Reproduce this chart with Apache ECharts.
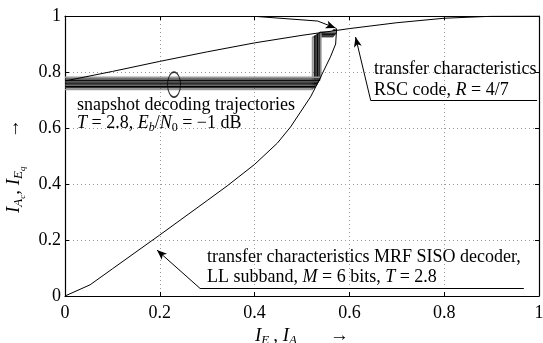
<!DOCTYPE html>
<html>
<head>
<meta charset="utf-8">
<script src="https://cdn.jsdelivr.net/npm/echarts@6/dist/echarts.min.js"></script>
<style>
  html, body { margin: 0; padding: 0; background: #fff; }
  #exitChart { width: 543px; height: 343px; }
</style>
</head>
<body>
<div id="exitChart"></div>
<script>
// axis ticks
var xTicks = [0, 0.2, 0.4, 0.6, 0.8, 1];
var yTicks = [0, 0.2, 0.4, 0.6, 0.8, 1];

// transfer characteristics RSC code, R = 4/7
var rscX = [0, 0.1, 0.2, 0.3, 0.4, 0.5, 0.6, 0.7, 0.8, 0.9, 1];
var rscY = [0.768, 0.802, 0.838, 0.872, 0.904, 0.931, 0.955, 0.976, 0.992, 0.999, 1];

// transfer characteristics MRF SISO decoder
var mrfX = [0, 0.053, 0.1, 0.2, 0.3, 0.342, 0.4, 0.448, 0.476, 0.518, 0.533, 0.56, 0.571, 0.573];
var mrfY = [0, 0.04, 0.097, 0.218, 0.341, 0.393, 0.47, 0.546, 0.604, 0.711, 0.76, 0.854, 0.9, 0.955];

// snapshot decoding trajectories (start, 1st step, 2nd step, end)
var trajY0 = [0.737, 0.744, 0.749, 0.753, 0.757, 0.761, 0.765, 0.770, 0.775, 0.781];
var trajX1 = [0.522, 0.526, 0.528, 0.530, 0.532, 0.533, 0.535, 0.537, 0.538, 0.540];
var trajY2 = [0.925, 0.928, 0.930, 0.932, 0.934, 0.936, 0.938, 0.940, 0.942, 0.944];
var trajX2 = [0.565, 0.566, 0.567, 0.568, 0.569, 0.570, 0.570, 0.571, 0.572, 0.572];
var trajY3 = [0.950, 0.951, 0.952, 0.952, 0.953, 0.953, 0.954, 0.954, 0.955, 0.955];

// ellipse marking the trajectory bundle
var ellipsePt = [0.23, 0.755];

var trajColors = ['#9a9a9a', '#333', '#000', '#666', '#222', '#000', '#555', '#111', '#444', '#9a9a9a'];

var serif = '"Liberation Serif", "DejaVu Serif", serif';

function zip(xs, ys) {
  var out = [];
  for (var i = 0; i < xs.length; i++) {
    out.push([xs[i], ys[i]]);
  }
  return out;
}

var chart = echarts.init(document.getElementById('exitChart'));

var mathRich = {
  t: { fontFamily: serif, fontSize: 18, color: '#000' },
  m: { fontFamily: serif, fontSize: 18, fontStyle: 'italic', color: '#000' },
  sb: { fontFamily: serif, fontSize: 12, fontStyle: 'italic', color: '#000', padding: [9, 0, 0, 0] },
  sn: { fontFamily: serif, fontSize: 12, color: '#000', padding: [9, 0, 0, 0] }
};

var axisRich = {
  i: { fontFamily: serif, fontSize: 19, fontStyle: 'italic', color: '#000' },
  s: { fontFamily: serif, fontSize: 13, fontStyle: 'italic', color: '#000', padding: [9, 0, 0, 0] },
  ss: { fontFamily: serif, fontSize: 9, fontStyle: 'italic', color: '#000', padding: [18, 0, 0, 0] },
  n: { fontFamily: serif, fontSize: 19, color: '#000' }
};

var series = [];

series.push({
  name: 'RSC',
  type: 'line',
  data: zip(rscX, rscY),
  showSymbol: false,
  lineStyle: { color: '#000', width: 1 },
  z: 3
});

series.push({
  name: 'MRF',
  type: 'line',
  data: zip(mrfX, mrfY),
  showSymbol: false,
  lineStyle: { color: '#000', width: 1 },
  z: 3
});

for (var k = 0; k < trajY0.length; k++) {
  series.push({
    name: 'traj' + k,
    type: 'line',
    data: [
      [0, trajY0[k]],
      [trajX1[k], trajY0[k]],
      [trajX1[k], trajY2[k]],
      [trajX2[k], trajY2[k]],
      [trajX2[k], trajY3[k]]
    ],
    showSymbol: false,
    lineStyle: { color: trajColors[k], width: 1.4 },
    z: 2
  });
}

series.push({
  name: 'ellipse',
  type: 'scatter',
  data: [ellipsePt],
  symbol: 'circle',
  symbolSize: [13, 25],
  itemStyle: { color: 'rgba(0,0,0,0)', borderColor: '#000', borderWidth: 1.2 },
  z: 4
});

// annotation leader lines and arrows
series.push({
  name: 'notes',
  type: 'line',
  data: [],
  markLine: {
    silent: true,
    animation: false,
    label: { show: false },
    symbolSize: [6, 10],
    lineStyle: { color: '#000', width: 1, type: 'solid' },
    data: [
      [{ coord: [0.645, 0.698], symbol: 'none' }, { coord: [0.996, 0.698], symbol: 'none' }],
      [{ coord: [0.645, 0.698], symbol: 'none' }, { coord: [0.613, 0.925], symbol: 'arrow' }],
      [{ coord: [0.285, 0.027], symbol: 'none' }, { coord: [0.968, 0.027], symbol: 'none' }],
      [{ coord: [0.285, 0.027], symbol: 'none' }, { coord: [0.194, 0.164], symbol: 'arrow' }],
      [{ coord: [0.406, 0.998], symbol: 'none' }, { coord: [0.533, 0.982], symbol: 'none' }],
      [{ coord: [0.533, 0.982], symbol: 'none' }, { coord: [0.571, 0.957], symbol: 'arrow' }]
    ]
  },
  z: 5
});

var tickLabel = { fontFamily: serif, fontSize: 18, color: '#000' };
var gridLine = { show: true, lineStyle: { color: '#9a9a9a', type: [1, 3], width: 1 } };
var frameLine = { show: true, onZero: false, lineStyle: { color: '#000', width: 1.2 } };
var frameTick = { show: true, inside: true, length: 4, lineStyle: { color: '#000' } };

var option = {
  animation: false,
  backgroundColor: '#fff',
  grid: { left: 65, right: 4, top: 16, bottom: 47, containLabel: false, outerBoundsMode: 'none' },
  xAxis: [
    {
      type: 'value', min: xTicks[0], max: xTicks[xTicks.length - 1], interval: 0.2,
      position: 'bottom',
      axisLine: frameLine,
      axisTick: frameTick,
      axisLabel: Object.assign({ margin: 8 }, tickLabel),
      splitLine: gridLine,
      name: '{i|I}{s|E}{ss|c}{n|, }{i|I}{s|A}{ss|q}{n|      →}',
      nameLocation: 'middle',
      nameGap: 23,
      nameTextStyle: { rich: axisRich }
    },
    {
      type: 'value', min: xTicks[0], max: xTicks[xTicks.length - 1], interval: 0.2,
      position: 'top',
      axisLine: frameLine,
      axisTick: frameTick,
      axisLabel: { show: false },
      splitLine: { show: false }
    }
  ],
  yAxis: [
    {
      type: 'value', min: yTicks[0], max: yTicks[yTicks.length - 1], interval: 0.2,
      position: 'left',
      axisLine: frameLine,
      axisTick: frameTick,
      axisLabel: Object.assign({ margin: 4 }, tickLabel),
      splitLine: gridLine,
      name: '{i|I}{s|A}{ss|c}{n|, }{i|I}{s|E}{ss|q}{n|      →}',
      nameLocation: 'middle',
      nameRotate: 90,
      nameGap: 28,
      nameTextStyle: { rich: axisRich, padding: [0, 20, 0, 0] }
    },
    {
      type: 'value', min: yTicks[0], max: yTicks[yTicks.length - 1], interval: 0.2,
      position: 'right',
      axisLine: frameLine,
      axisTick: frameTick,
      axisLabel: { show: false },
      splitLine: { show: false }
    }
  ],
  graphic: [
    {
      type: 'text', left: 77, top: 96, z: 10,
      style: {
        text: '{t|snapshot decoding trajectories}\n{m|T}{t| = 2.8, }{m|E}{sb|b}{t|/}{m|N}{sn|0}{t| = −1 dB}',
        rich: mathRich, lineHeight: 18
      }
    },
    {
      type: 'text', left: 374, top: 59, z: 10,
      style: {
        text: '{t|transfer characteristics}\n{t|RSC code, }{m|R}{t| = 4/7}',
        rich: mathRich, lineHeight: 21
      }
    },
    {
      type: 'text', left: 207, top: 247, z: 10,
      style: {
        text: '{t|transfer characteristics MRF SISO decoder,}\n{t|LL subband, }{m|M}{t| = 6 bits, }{m|T}{t| = 2.8}',
        rich: mathRich, lineHeight: 20
      }
    }
  ],
  series: series
};

chart.setOption(option);
</script>
</body>
</html>
